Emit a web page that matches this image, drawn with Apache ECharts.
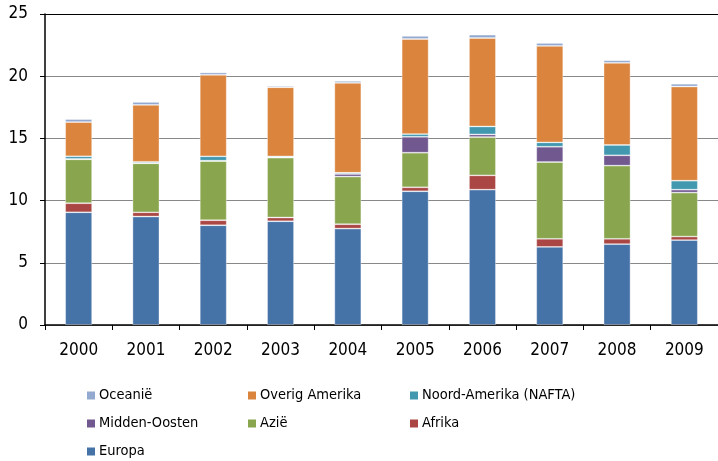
<!DOCTYPE html>
<html>
<head>
<meta charset="utf-8">
<script src="https://cdn.jsdelivr.net/npm/echarts@6/dist/echarts.min.js"></script>
<style>
  html, body { margin: 0; padding: 0; background: #fff; }
  #chart { width: 718px; height: 461px; }
</style>
</head>
<body>
<div id="chart"></div>
<script>
var jaren = ['2000', '2001', '2002', '2003', '2004', '2005', '2006', '2007', '2008', '2009'];
var europa       = [9.06, 8.72, 8.02, 8.34, 7.75, 10.75, 10.88, 6.28, 6.50, 6.82];
var afrika       = [0.73, 0.34, 0.40, 0.30, 0.35, 0.32, 1.15, 0.65, 0.43, 0.29];
var azie         = [3.53, 3.94, 4.76, 4.81, 3.83, 2.78, 3.08, 6.17, 5.88, 3.53];
var middenOosten = [0.03, 0.02, 0.03, 0.02, 0.21, 1.28, 0.21, 1.23, 0.83, 0.24];
var nafta        = [0.21, 0.10, 0.35, 0.08, 0.10, 0.22, 0.64, 0.35, 0.83, 0.72];
var overigAm     = [2.75, 4.57, 6.55, 5.56, 7.22, 7.64, 7.11, 7.75, 6.60, 7.57];
var oceanie      = [0.24, 0.24, 0.19, 0.11, 0.16, 0.25, 0.27, 0.24, 0.21, 0.22];

var font = '"DejaVu Sans Condensed", "Liberation Sans", sans-serif';

var chart = echarts.init(document.getElementById('chart'));

function serie(naam, data, kleur) {
    return {
        name: naam,
        type: 'bar',
        stack: 'totaal',
        barWidth: '40%',
        data: data,
        itemStyle: { color: kleur, borderColor: 'rgba(255,255,255,0.45)', borderWidth: 0.8 }
    };
}

// one legend per item, laid out in 3 columns like the original
function legenda(naam, left, top) {
    return {
        left: left,
        top: top,
        padding: 0,
        itemWidth: 8,
        itemHeight: 8,
        itemGap: 0,
        icon: 'rect',
        itemStyle: { borderWidth: 0 },
        textStyle: { fontFamily: font, fontSize: 14.5, color: '#000', padding: [0, 0, 0, -1] },
        data: [naam]
    };
}

var option = {
    animation: false,
    textStyle: { fontFamily: font },
    grid: { left: 45, right: 0, top: 14, bottom: 136 },
    legend: [
        legenda('Oceanië', 87, 388),
        legenda('Overig Amerika', 248, 388),
        legenda('Noord-Amerika (NAFTA)', 410, 388),
        legenda('Midden-Oosten', 87, 416),
        legenda('Azië', 248, 416),
        legenda('Afrika', 410, 416),
        legenda('Europa', 87, 444)
    ],
    xAxis: {
        type: 'category',
        data: jaren,
        axisLine: { lineStyle: { color: '#000', width: 1.5 } },
        axisTick: { show: true, inside: false, length: 5, lineStyle: { color: '#000' } },
        axisLabel: { color: '#000', fontSize: 17, fontFamily: font, margin: 17 }
    },
    yAxis: {
        type: 'value',
        min: 0,
        max: 25,
        interval: 5,
        axisLine: { show: true, lineStyle: { color: '#000', width: 1.5 } },
        axisTick: { show: true, length: 5, lineStyle: { color: '#000' } },
        axisLabel: { color: '#000', fontSize: 17, fontFamily: font, margin: 17 },
        splitLine: { lineStyle: { color: ['#888', '#888', '#888', '#888', '#888', '#000'], width: 1.2 } }
    },
    series: [
        serie('Europa', europa, '#4572A7'),
        serie('Afrika', afrika, '#AA4643'),
        serie('Azië', azie, '#89A54E'),
        serie('Midden-Oosten', middenOosten, '#71588F'),
        serie('Noord-Amerika (NAFTA)', nafta, '#4198AF'),
        serie('Overig Amerika', overigAm, '#DB843D'),
        serie('Oceanië', oceanie, '#93A9CF')
    ]
};

chart.setOption(option);
window.onresize = chart.resize;
</script>
</body>
</html>
